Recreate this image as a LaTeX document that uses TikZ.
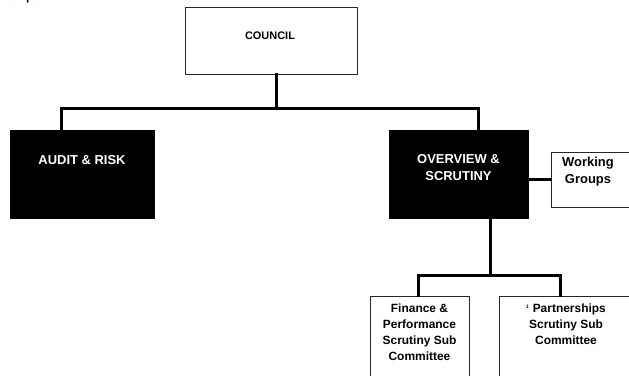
\documentclass[tikz,border=0pt]{standalone}
\usepackage{fontspec}
\setmainfont{Liberation Sans}
\begin{document}
\begin{tikzpicture}[x=1bp,y=-1bp,
  wbox/.style={draw=black!85,line width=1bp,fill=white,inner sep=0pt},
  bbox/.style={draw=black,fill=black,inner sep=0pt},
  btext/.style={text=white,font=\bfseries\fontsize{13}{17}\selectfont,align=center,inner sep=0pt},
  wtext/.style={text=black,font=\bfseries\fontsize{12}{16}\selectfont,align=center,inner sep=0pt},
  conn/.style={line width=3bp,line join=miter,line cap=rect}]
\useasboundingbox (0,0) rectangle (629,375);
\fill[white] (0,0) rectangle (629,375);
% cut-off text at top
\node[anchor=base west,inner sep=0pt,font=\bfseries\fontsize{12}{14}\selectfont] (cut) at (2,0.5) {veloped};
% boxes
\node[wbox,minimum width=172bp,minimum height=67bp] (council) at (271,40.5) {};
\node[font=\bfseries\fontsize{11}{13}\selectfont,inner sep=0pt] (councilt) at (270,36) {COUNCIL};
\node[bbox,minimum width=144bp,minimum height=88bp] (audit) at (82,174) {};
\node[btext] (auditt) at (82,160) {AUDIT \& RISK};
\node[bbox,minimum width=139bp,minimum height=88bp] (overview) at (458.5,174) {};
\node[btext] (overviewt) at (458.5,167.5) {OVERVIEW \&\\SCRUTINY};
\node[wbox,minimum width=90bp,minimum height=55bp] (working) at (596,179.5) {};
\node[wtext,font=\bfseries\fontsize{13}{17}\selectfont] (workingt) at (588,171.5) {Working\\Groups};
\node[wbox,minimum width=99bp,minimum height=100bp] (finance) at (419.5,346) {};
\node[wtext] (financet) at (419.5,332) {Finance \&\\Performance\\Scrutiny Sub\\Committee};
\node[wbox,minimum width=140bp,minimum height=100bp] (partner) at (569,346) {};
\node[wtext] (partnert) at (566,324) {\textsuperscript{\tiny 1} Partnerships\\Scrutiny Sub\\Committee};
% connectors
\coordinate (cj) at (276,108);
\coordinate (aj) at (61,108);
\coordinate (oj) at (478,108);
\draw[conn] (council.south -| cj) -- (cj);
\draw[conn] (aj |- audit.north) -- (aj) -- (oj) -- (oj |- overview.north);
\draw[conn] (working.west -| overview.east) -- (working.west);
\coordinate (sj) at (490,275);
\coordinate (fj) at (418,275);
\coordinate (pj) at (560,275);
\draw[conn] (overview.south -| sj) -- (sj);
\draw[conn] (fj |- finance.north) -- (fj) -- (pj) -- (pj |- partner.north);
\end{tikzpicture}
\end{document}
